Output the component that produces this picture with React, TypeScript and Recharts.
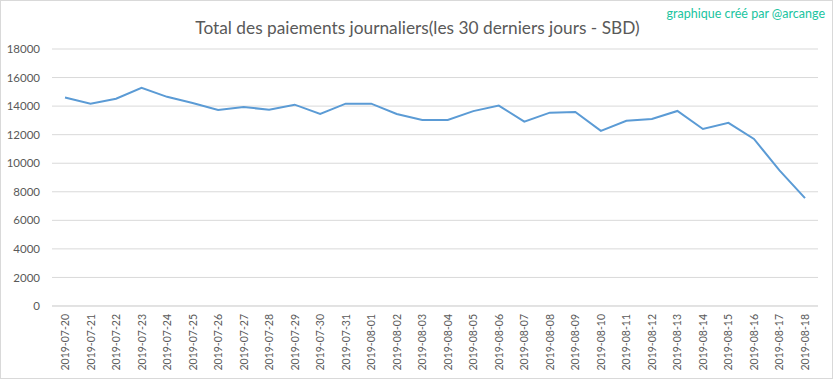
import { CartesianGrid, Line, LineChart, XAxis, YAxis } from "recharts";

const dates = [
  "2019-07-20", "2019-07-21", "2019-07-22", "2019-07-23", "2019-07-24",
  "2019-07-25", "2019-07-26", "2019-07-27", "2019-07-28", "2019-07-29",
  "2019-07-30", "2019-07-31", "2019-08-01", "2019-08-02", "2019-08-03",
  "2019-08-04", "2019-08-05", "2019-08-06", "2019-08-07", "2019-08-08",
  "2019-08-09", "2019-08-10", "2019-08-11", "2019-08-12", "2019-08-13",
  "2019-08-14", "2019-08-15", "2019-08-16", "2019-08-17", "2019-08-18",
];

const payments = [
  14600, 14170, 14520, 15280, 14650,
  14220, 13730, 13940, 13740, 14100,
  13450, 14170, 14170, 13450, 13030,
  13030, 13650, 14040, 12910, 13540,
  13590, 12270, 12970, 13100, 13660,
  12400, 12830, 11700, 9500, 7560,
];

const yTicks = [0, 2000, 4000, 6000, 8000, 10000, 12000, 14000, 16000, 18000];

const data = dates.map((date, i) => ({ date, value: payments[i] }));

const font = "Lato, 'Open Sans', sans-serif";
const grey = "#595959";

const DateTick = (props: any) => {
  const { x, y, payload } = props;
  return (
    <text
      x={x}
      y={y}
      transform={`rotate(-90, ${x}, ${y})`}
      textAnchor="end"
      dominantBaseline="central"
      fontSize={10.5}
      fill={grey}
      fontFamily={font}
    >
      {payload.value}
    </text>
  );
};

const App = () => {
  return (
    <div
      style={{
        position: "absolute",
        left: 0,
        top: 0,
        width: 833,
        height: 379,
        background: "#fff",
        boxSizing: "border-box",
        border: "1px solid #d9d9d9",
        fontFamily: font,
      }}
    >
      <div
        style={{
          position: "absolute",
          left: 0,
          width: 833,
          top: 16,
          textAlign: "center",
          fontSize: 17.3,
          color: grey,
        }}
      >
        Total des paiements journaliers(les 30 derniers jours - SBD)
      </div>
      <div
        style={{
          position: "absolute",
          right: 7,
          top: 5,
          fontSize: 12.5,
          color: "#20c4a0",
        }}
      >
        graphique créé par @arcange
      </div>
      <div style={{ position: "absolute", left: -1, top: -1 }}>
        <LineChart
          width={833}
          height={379}
          data={data}
          margin={{ top: 49, right: 15, left: 8, bottom: 0 }}
        >
          <CartesianGrid vertical={false} stroke="#d9d9d9" />
          <XAxis
            dataKey="date"
            interval={0}
            height={73}
            padding={{ left: 13, right: 13 }}
            tickSize={0}
            tickMargin={8}
            axisLine={{ stroke: "#d9d9d9" }}
            tickLine={false}
            tick={<DateTick />}
          />
          <YAxis
            width={44}
            domain={[0, 18000]}
            ticks={yTicks}
            interval={0}
            tickSize={0}
            tickMargin={12}
            axisLine={false}
            tickLine={false}
            tick={{ fontSize: 11.5, fill: grey, fontFamily: font }}
          />
          <Line
            type="linear"
            dataKey="value"
            stroke="#5b9bd5"
            strokeWidth={2}
            dot={false}
            activeDot={false}
            isAnimationActive={false}
          />
        </LineChart>
      </div>
    </div>
  );
};

export default App;
